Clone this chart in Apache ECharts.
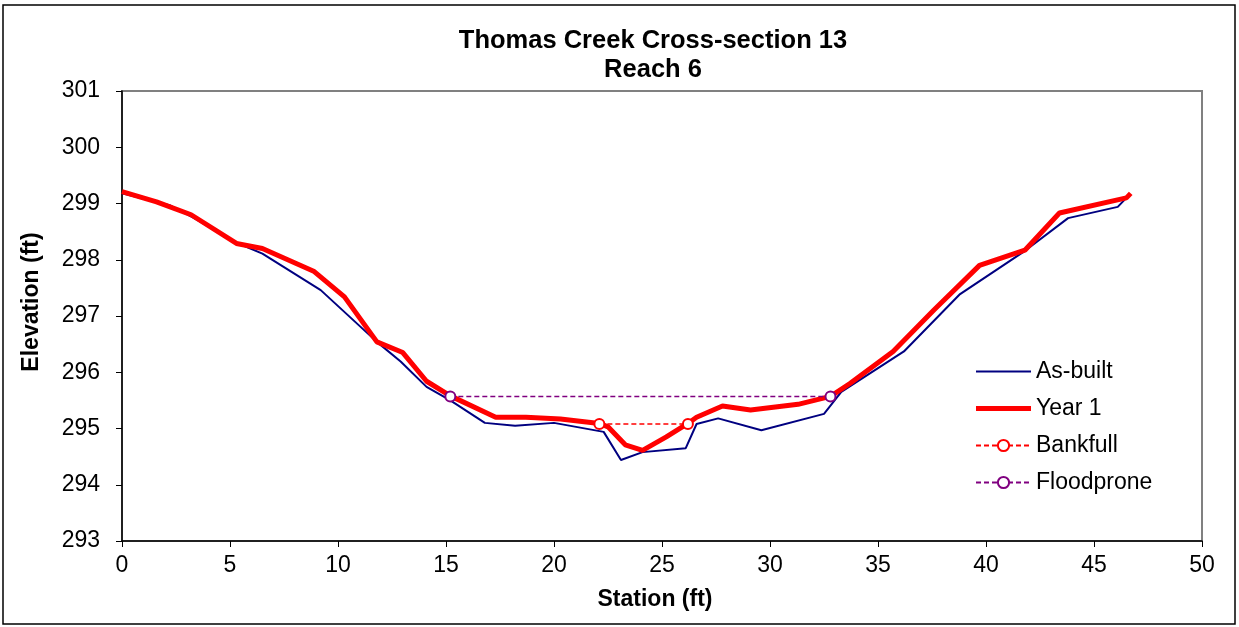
<!DOCTYPE html>
<html>
<head>
<meta charset="utf-8">
<script src="https://cdn.jsdelivr.net/npm/echarts@6/dist/echarts.min.js"></script>
<style>
html,body{margin:0;padding:0;background:#fff;}
#chart{width:1239px;height:627px;}
</style>
</head>
<body>
<div id="chart"></div>
<script>
const titleLines = ['Thomas Creek Cross-section 13', 'Reach 6'];
const xAxisTitle = 'Station (ft)';
const yAxisTitle = 'Elevation (ft)';
const seriesNames = ['As-built', 'Year 1', 'Bankfull', 'Floodprone'];

const asBuiltStation = [0, 2.2, 3.3, 5.2, 6.5, 9.2, 11.8, 12.9, 14.1, 15.2, 16.8, 18.2, 20.0, 22.3, 23.1, 24.1, 26.1, 26.6, 27.6, 29.6, 32.5, 33.3, 36.2, 38.8, 41.7, 43.8, 46.1, 46.5];
const asBuiltElev = [299.18, 298.97, 298.75, 298.32, 298.11, 297.46, 296.54, 296.19, 295.74, 295.5, 295.1, 295.05, 295.1, 294.94, 294.44, 294.58, 294.65, 295.08, 295.18, 294.97, 295.26, 295.65, 296.37, 297.39, 298.13, 298.74, 298.94, 299.1];

const year1Station = [0, 1.6, 3.2, 5.3, 6.5, 8.9, 10.3, 11.8, 13.0, 14.1, 15.2, 17.3, 18.7, 20.3, 22.1, 22.5, 23.3, 24.1, 25.2, 26.2, 26.6, 27.8, 29.1, 31.3, 32.8, 33.7, 35.7, 37.6, 39.7, 41.8, 43.4, 46.5, 46.7];
const year1Elev = [299.21, 299.03, 298.8, 298.29, 298.2, 297.79, 297.34, 296.54, 296.35, 295.84, 295.58, 295.2, 295.2, 295.17, 295.09, 295.03, 294.71, 294.61, 294.85, 295.09, 295.2, 295.4, 295.33, 295.43, 295.57, 295.8, 296.37, 297.11, 297.9, 298.17, 298.83, 299.1, 299.18];

const bankfullStation = [22.1, 26.2];
const bankfullElev = [295.08, 295.08];

const floodproneStation = [15.2, 32.8];
const floodproneElev = [295.57, 295.57];

const xTicks = {min: 0, max: 50, interval: 5};
const yTicks = {min: 293, max: 301, interval: 1};

function pairs(xs, ys) { return xs.map((x, i) => [x, ys[i]]); }

const FONT = 'Liberation Sans, Arial, sans-serif';
const chart = echarts.init(document.getElementById('chart'), null, {renderer: 'canvas'});

chart.setOption({
  animation: false,
  backgroundColor: '#fff',
  grid: {left: 122, right: 37, top: 91, bottom: 86, show: true, borderColor: '#808080', borderWidth: 2, backgroundColor: '#fff'},
  graphic: [
    {type: 'rect', shape: {x: 3, y: 5, width: 1232, height: 619}, style: {fill: null, stroke: '#000', lineWidth: 1.5}, z: -1},
    {type: 'text', x: 653, y: 27, style: {text: titleLines.join('\n'), textAlign: 'center', textVerticalAlign: 'top', fontFamily: FONT, fontWeight: 'bold', fontSize: 25.5, lineHeight: 28.5, fill: '#000'}}
  ],
  xAxis: {
    type: 'value', min: xTicks.min, max: xTicks.max, interval: xTicks.interval,
    name: xAxisTitle, nameLocation: 'middle', nameGap: 47,
    nameTextStyle: {fontFamily: FONT, fontWeight: 'bold', fontSize: 23, color: '#000', padding: [0, 14, 0, 0]},
    axisLine: {lineStyle: {color: '#000', width: 1.5}},
    axisTick: {show: true, inside: false, length: 6, lineStyle: {color: '#000'}},
    axisLabel: {fontFamily: FONT, fontSize: 23, color: '#000', margin: 13},
    splitLine: {show: false}
  },
  yAxis: {
    type: 'value', min: yTicks.min, max: yTicks.max, interval: yTicks.interval,
    name: yAxisTitle, nameLocation: 'middle', nameGap: 79,
    nameTextStyle: {fontFamily: FONT, fontWeight: 'bold', fontSize: 23, color: '#000', padding: [0, 0, 0, 28]},
    axisLine: {show: true, lineStyle: {color: '#000', width: 1.5}},
    axisTick: {show: true, inside: false, length: 6, lineStyle: {color: '#000'}},
    axisLabel: {fontFamily: FONT, fontSize: 23, color: '#000', margin: 22},
    splitLine: {show: false}
  },
  legend: {
    orient: 'vertical', left: 975, top: 360, padding: 0, itemWidth: 55, itemHeight: 14, itemGap: 14,
    symbolKeepAspect: true,
    textStyle: {fontFamily: FONT, fontSize: 23, color: '#000'},
    data: [
      {name: seriesNames[0], icon: 'path://M0,0H55V2H0Z'},
      {name: seriesNames[1], icon: 'path://M0,0H55V5H0Z'},
      {name: seriesNames[2]},
      {name: seriesNames[3]}
    ]
  },
  series: [
    {name: seriesNames[0], type: 'line', data: pairs(asBuiltStation, asBuiltElev), showSymbol: false, symbol: 'none',
     lineStyle: {color: '#000080', width: 2}, itemStyle: {color: '#000080'}, z: 2},
    {name: seriesNames[1], type: 'line', data: pairs(year1Station, year1Elev), showSymbol: false, symbol: 'none',
     lineStyle: {color: '#ff0000', width: 5}, itemStyle: {color: '#ff0000'}, z: 3},
    {name: seriesNames[2], type: 'line', data: pairs(bankfullStation, bankfullElev), symbol: 'emptyCircle', symbolSize: 10,
     lineStyle: {color: '#ff0000', width: 1.5, type: [5, 3]}, itemStyle: {color: '#ff0000', borderWidth: 1.5}, z: 4},
    {name: seriesNames[3], type: 'line', data: pairs(floodproneStation, floodproneElev), symbol: 'emptyCircle', symbolSize: 10,
     lineStyle: {color: '#800080', width: 1.5, type: [5, 3]}, itemStyle: {color: '#800080', borderWidth: 1.5}, z: 4}
  ]
});
</script>
</body>
</html>
